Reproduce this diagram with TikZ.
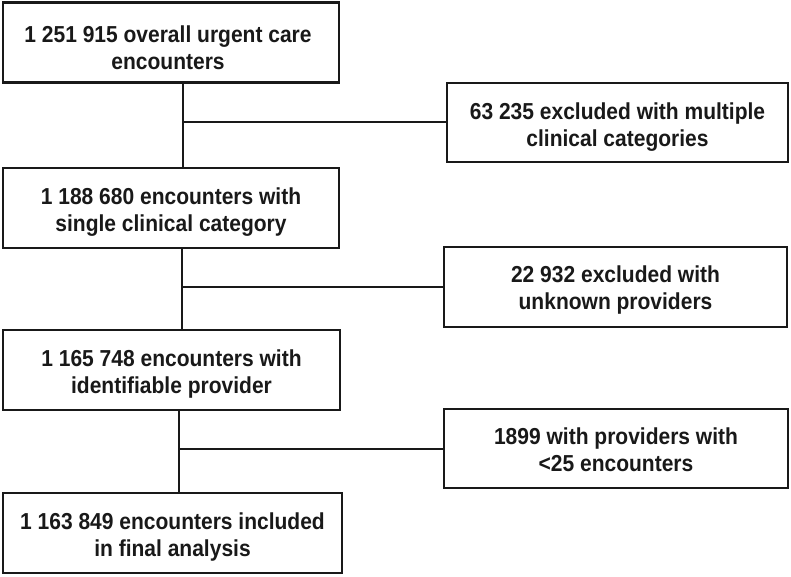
\documentclass[tikz,border=0pt]{standalone}
\usepackage{fontspec}
\usepackage{graphicx}
\setmainfont{Liberation Sans}
\newcommand{\boxtext}[1]{\scalebox{1}[1.1]{\begin{tabular}{@{}c@{}}#1\end{tabular}}}
\begin{document}
\begin{tikzpicture}[x=1pt,y=1pt,
  flowbox/.style={draw=black!90, line width=2.2pt, fill=white, rectangle, inner sep=0pt},
  boxlabel/.style={inner sep=0pt, align=center, font=\fontsize{21}{24.5}\selectfont\bfseries, text=black!90},
  link/.style={draw=black!90, line width=2pt}]
\useasboundingbox (0,0) rectangle (791,-577);
\node[flowbox, minimum width=336pt, minimum height=80pt] (b1) at (171,-42.5) {};
\node[flowbox, minimum width=336pt, minimum height=80pt] (b2) at (171,-208) {};
\node[flowbox, minimum width=337pt, minimum height=80pt] (b3) at (171.5,-370) {};
\node[flowbox, minimum width=339pt, minimum height=80pt] (b4) at (172.5,-533) {};
\node[flowbox, minimum width=341pt, minimum height=79pt] (r1) at (617.5,-122.5) {};
\node[flowbox, minimum width=343pt, minimum height=80pt] (r2) at (615.5,-287) {};
\node[flowbox, minimum width=344pt, minimum height=79pt] (r3) at (616,-448.5) {};
\node[boxlabel] (t1) at ([xshift=-3pt,yshift=-8pt]b1.center) {\boxtext{1 251 915 overall urgent care\\encounters}};
\node[boxlabel] (t2) at ([yshift=-5pt]b2.center) {\boxtext{1 188 680 encounters with\\single clinical category}};
\node[boxlabel] (t3) at ([yshift=-4.5pt]b3.center) {\boxtext{1 165 748 encounters with\\identifiable provider}};
\node[boxlabel] (t4) at ([yshift=-5pt]b4.center) {\boxtext{1 163 849 encounters included\\in final analysis}};
\node[boxlabel] (u1) at ([yshift=-5pt]r1.center) {\boxtext{63 235 excluded with multiple\\clinical categories}};
\node[boxlabel] (u2) at ([yshift=-4pt]r2.center) {\boxtext{22 932 excluded with\\unknown providers}};
\node[boxlabel] (u3) at ([yshift=-4pt]r3.center) {\boxtext{1899 with providers with\\<25 encounters}};
\coordinate (x1) at (183,0);
\coordinate (x2) at (182,0);
\coordinate (x3) at (179,0);
\draw[link] (b1.south -| x1) -- (b2.north -| x1);
\draw[link] (b2.south -| x2) -- (b3.north -| x2);
\draw[link] (b3.south -| x3) -- (b4.north -| x3);
\draw[link] (x1 |- r1.west) -- (r1.west);
\draw[link] (x2 |- r2.west) -- (r2.west);
\draw[link] (x3 |- r3.west) -- (r3.west);
\end{tikzpicture}
\end{document}
